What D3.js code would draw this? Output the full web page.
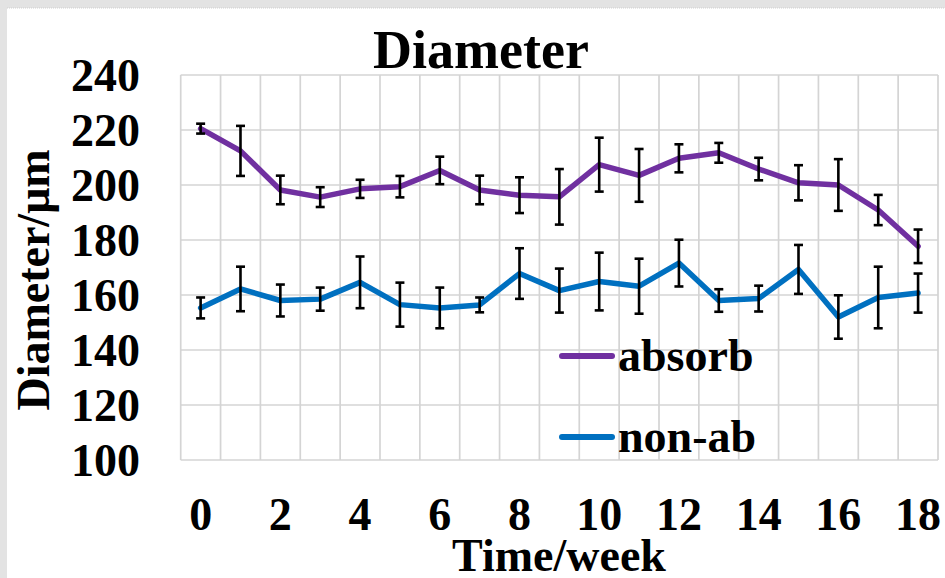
<!DOCTYPE html>
<html>
<head>
<meta charset="utf-8">
<script src="https://cdn.jsdelivr.net/npm/d3@7"></script>
<style>
  body { margin: 0; background: #e3e3e3; }
  svg { display: block; }
  text { font-family: "Times New Roman", "Liberation Serif", serif; font-weight: bold; fill: #000; }
</style>
</head>
<body>
<div id="chart"></div>
<script>
// data
const weeks = [0, 1, 2, 3, 4, 5, 6, 7, 8, 9, 10, 11, 12, 13, 14, 15, 16, 17, 18];
const absorb = [220.5, 212.4, 198.2, 195.6, 198.6, 199.4, 205.3, 198.2, 196.3, 195.7, 207.4, 203.5, 209.7, 211.7, 205.8, 200.8, 200.0, 190.9, 177.7];
const absorbErr = [1.8, 9.1, 5.2, 3.6, 3.3, 3.9, 5.0, 5.2, 6.5, 10.1, 9.8, 9.6, 5.1, 3.6, 4.1, 6.4, 9.4, 5.5, 6.1];
const nonab = [155.3, 162.2, 158.0, 158.5, 164.6, 156.5, 155.3, 156.4, 167.8, 161.6, 164.9, 163.2, 171.6, 158.0, 158.7, 169.3, 152.0, 159.1, 160.7];
const nonabErr = [3.8, 8.1, 5.8, 4.2, 9.4, 8.0, 7.4, 2.7, 9.2, 8.0, 10.5, 10.0, 8.5, 4.1, 4.7, 8.9, 7.9, 11.2, 7.1];
const yTicks = [100, 120, 140, 160, 180, 200, 220, 240];
const xTickLabels = [0, 2, 4, 6, 8, 10, 12, 14, 16, 18];
const seriesNames = ["absorb", "non-ab"];
const seriesColors = ["#7030a0", "#0070c0"];

const W = 945, H = 578;
const svg = d3.select("#chart").append("svg").attr("width", W).attr("height", H);

// white chart panel on grey page
svg.append("rect").attr("x", 7).attr("y", 8).attr("width", W - 7).attr("height", H - 8).attr("fill", "#fff");
svg.append("line").attr("x1", 7).attr("x2", W).attr("y1", 8).attr("y2", 8)
  .attr("stroke", "#cfcfcf").attr("stroke-width", 1).attr("stroke-dasharray", "1,1");

const plot = { left: 180.7, right: 938, top: 75, bottom: 460 };

const x = d3.scaleBand().domain(weeks).range([plot.left, plot.right]).padding(0);
const y = d3.scaleLinear().domain([100, 240]).range([plot.bottom, plot.top]);
const cx = d => x(d) + x.bandwidth() / 2;

// grid
const grid = svg.append("g").attr("stroke", "#d4d4d4").attr("stroke-width", 1.7);
grid.selectAll(".hg").data(yTicks).enter().append("line")
  .attr("x1", plot.left).attr("x2", plot.right)
  .attr("y1", d => y(d)).attr("y2", d => y(d));
const edges = weeks.map(w => x(w)).concat([plot.right]);
grid.selectAll(".vg").data(edges).enter().append("line")
  .attr("x1", d => d).attr("x2", d => d)
  .attr("y1", plot.top).attr("y2", plot.bottom);

// y tick labels
svg.append("g").selectAll("text").data(yTicks).enter().append("text")
  .attr("x", 140).attr("y", d => y(d)).attr("dy", "0.35em")
  .attr("text-anchor", "end").style("font-size", "46px")
  .text(d => d);

// x tick labels
svg.append("g").selectAll("text").data(xTickLabels).enter().append("text")
  .attr("x", d => cx(d)).attr("y", 530)
  .attr("text-anchor", "middle").style("font-size", "46px")
  .text(d => d);

// titles
svg.append("text").attr("x", 481).attr("y", 68).attr("text-anchor", "middle")
  .style("font-size", "54px").text("Diameter");
svg.append("text").attr("x", 559).attr("y", 571).attr("text-anchor", "middle")
  .style("font-size", "46px").text("Time/week");
svg.append("text").attr("transform", "translate(49,280) rotate(-90)").attr("text-anchor", "middle")
  .style("font-size", "46px").text("Diameter/μm");

// series
const series = [
  { name: seriesNames[0], color: seriesColors[0], vals: absorb, err: absorbErr },
  { name: seriesNames[1], color: seriesColors[1], vals: nonab, err: nonabErr }
];
const line = d3.line().x((d, i) => cx(weeks[i])).y(d => y(d));

series.forEach(s => {
  svg.append("path").datum(s.vals)
    .attr("d", line).attr("fill", "none")
    .attr("stroke", s.color).attr("stroke-width", 5.5)
    .attr("stroke-linejoin", "round").attr("stroke-linecap", "round");
});

// error bars on top
series.forEach(s => {
  const g = svg.append("g").attr("stroke", "#000").attr("stroke-width", 2.6);
  weeks.forEach((w, i) => {
    const px = cx(w), lo = y(s.vals[i] - s.err[i]), hi = y(s.vals[i] + s.err[i]);
    g.append("line").attr("x1", px).attr("x2", px).attr("y1", lo).attr("y2", hi);
    g.append("line").attr("x1", px - 4.5).attr("x2", px + 4.5).attr("y1", lo).attr("y2", lo);
    g.append("line").attr("x1", px - 4.5).attr("x2", px + 4.5).attr("y1", hi).attr("y2", hi);
  });
});

// legend
const leg = svg.append("g");
series.forEach((s, i) => {
  const ly = 356 + i * 81;
  leg.append("line").attr("x1", 562).attr("x2", 612).attr("y1", ly).attr("y2", ly)
    .attr("stroke", s.color).attr("stroke-width", 6).attr("stroke-linecap", "round");
  leg.append("text").attr("x", 618).attr("y", ly).attr("dy", "0.33em")
    .style("font-size", "46px").text(s.name);
});
</script>
</body>
</html>
